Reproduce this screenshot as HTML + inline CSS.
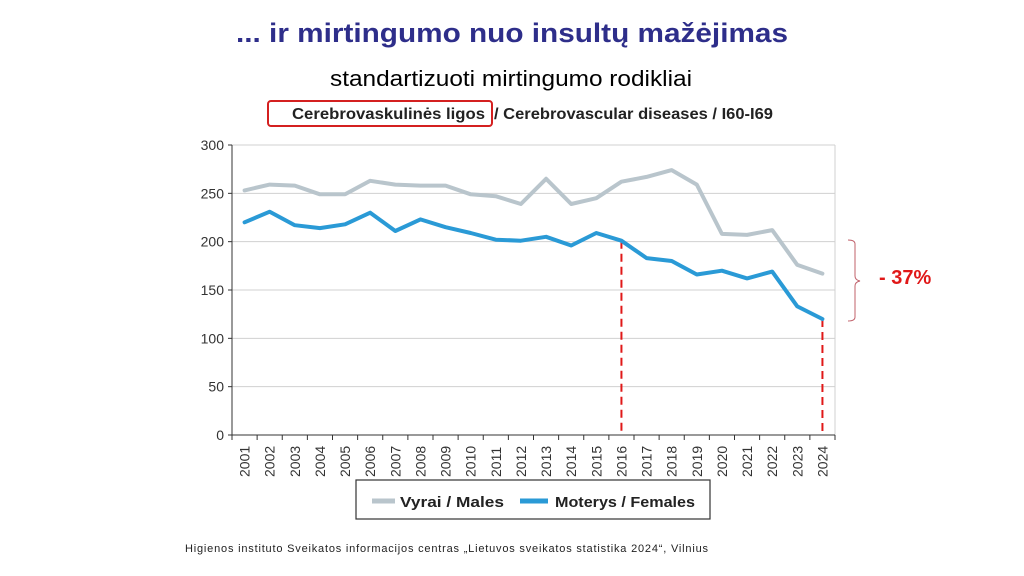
<!DOCTYPE html>
<html><head><meta charset="utf-8"><style>
body{margin:0;width:1024px;height:576px;background:#fff;overflow:hidden}
svg{display:block}
</style></head><body>
<svg id="s" width="1024" height="576" xmlns="http://www.w3.org/2000/svg" font-family="Liberation Sans, Arial, sans-serif">
<text x="512" y="42" text-anchor="middle" font-size="27" font-weight="bold" fill="#2e2e8a" textLength="552" lengthAdjust="spacingAndGlyphs">... ir mirtingumo nuo insultų mažėjimas</text>
<text x="511" y="86" text-anchor="middle" font-size="22" fill="#000" textLength="362" lengthAdjust="spacingAndGlyphs">standartizuoti mirtingumo rodikliai</text>
<rect x="268" y="101" width="224" height="25" rx="3" fill="none" stroke="#d42020" stroke-width="2"/>
<text x="292" y="119" font-size="16" font-weight="bold" fill="#222" textLength="193" lengthAdjust="spacingAndGlyphs">Cerebrovaskulinės ligos</text>
<text x="494" y="119" font-size="16" font-weight="bold" fill="#222" textLength="279" lengthAdjust="spacingAndGlyphs">/ Cerebrovascular diseases / I60-I69</text>
<g id="g"></g>
<path d="M848 240 Q855 240 855 244 L855 276 Q855 280 860 281 Q855 282 855 286 L855 317 Q855 321 848 321" fill="none" stroke="#c0606a" stroke-width="1"/>
<text x="879" y="284" font-size="20" font-weight="bold" fill="#e01818">- 37%</text>
<rect x="356" y="480" width="354" height="39" fill="#fff" stroke="#333" stroke-width="1.2"/>
<line x1="372" y1="501" x2="395" y2="501" stroke="#b9c5cc" stroke-width="5"/>
<text x="400" y="507" font-size="15" font-weight="bold" fill="#222" textLength="104" lengthAdjust="spacingAndGlyphs">Vyrai / Males</text>
<line x1="520" y1="501" x2="548" y2="501" stroke="#2a9ad6" stroke-width="5"/>
<text x="555" y="507" font-size="15" font-weight="bold" fill="#222" textLength="140" lengthAdjust="spacingAndGlyphs">Moterys / Females</text>
<text x="185" y="552" font-size="11" fill="#222" textLength="523" lengthAdjust="spacing">Higienos instituto Sveikatos informacijos centras „Lietuvos sveikatos statistika 2024“, Vilnius</text>
</svg>
<script>
var m=[253,259,258,249,249,263,259,258,258,249,247,239,265,239,245,262,267,274,259,208,207,212,176,167];
var f=[220,231,217,214,218,230,211,223,215,209,202,201,205,196,209,201,183,180,166,170,162,169,133,120];
var L=232,R=835,T=145,B=435,w=(R-L)/24;
function X(i){return L+w*(i+0.5)}function Y(v){return B-v*(B-T)/300}
var h='';
for(var v=0;v<=300;v+=50){h+='<line x1="'+L+'" x2="'+R+'" y1="'+Y(v)+'" y2="'+Y(v)+'" stroke="#d0d0d0" stroke-width="1"/>';
h+='<text x="'+(L-8)+'" y="'+(Y(v)+5)+'" text-anchor="end" font-size="14" fill="#333">'+v+'</text>';
h+='<line x1="'+(L-4)+'" x2="'+L+'" y1="'+Y(v)+'" y2="'+Y(v)+'" stroke="#333"/>';}
h+='<line x1="'+R+'" x2="'+R+'" y1="'+T+'" y2="'+B+'" stroke="#d0d0d0"/>';
h+='<line x1="'+L+'" x2="'+L+'" y1="'+T+'" y2="'+B+'" stroke="#333"/>';
h+='<line x1="'+L+'" x2="'+R+'" y1="'+B+'" y2="'+B+'" stroke="#333"/>';
for(var i=0;i<=24;i++){var x=L+w*i;h+='<line x1="'+x+'" x2="'+x+'" y1="'+B+'" y2="'+(B+5)+'" stroke="#333"/>';}
for(var i=0;i<24;i++){var x=X(i)+5;h+='<text transform="translate('+x+',477) rotate(-90)" font-size="14" fill="#333">'+(2001+i)+'</text>';}
h+='<line x1="'+X(15)+'" x2="'+X(15)+'" y1="'+Y(201)+'" y2="'+B+'" stroke="#e01818" stroke-width="2" stroke-dasharray="8,5"/>';
h+='<line x1="'+X(23)+'" x2="'+X(23)+'" y1="'+Y(120)+'" y2="'+B+'" stroke="#e01818" stroke-width="2" stroke-dasharray="8,5"/>';
function P(a,c){var p=a.map(function(v,i){return X(i).toFixed(1)+','+Y(v).toFixed(1)}).join(' ');return '<polyline points="'+p+'" fill="none" stroke="'+c+'" stroke-width="4" stroke-linejoin="round" stroke-linecap="round"/>';}
h+=P(m,'#b9c5cc')+P(f,'#2a9ad6');
document.getElementById('g').innerHTML=h;
</script>
</body></html>
